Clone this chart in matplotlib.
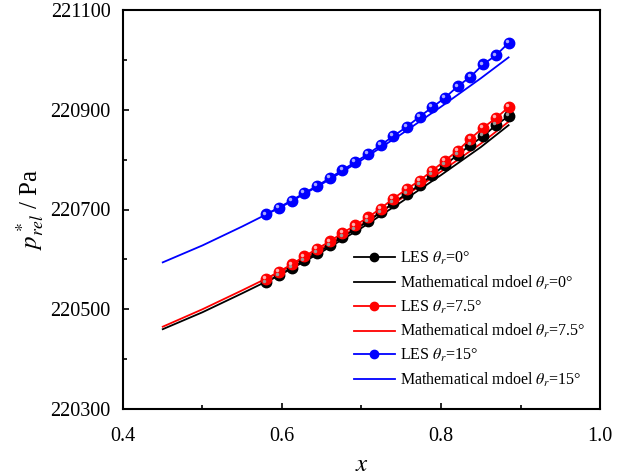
import numpy as np
import matplotlib
matplotlib.use("Agg")
import matplotlib.pyplot as plt
import matplotlib.transforms as mtransforms

plt.rcParams['font.family'] = ['Liberation Serif', 'DejaVu Serif']
plt.rcParams['mathtext.fontset'] = 'stix'

# LES sample positions
x_les = [0.580, 0.596, 0.612, 0.628, 0.644, 0.660, 0.676, 0.692, 0.708, 0.724,
         0.740, 0.757, 0.773, 0.789, 0.805, 0.821, 0.837, 0.853, 0.869, 0.885]
les_0 = [220554, 220568, 220583, 220598, 220613, 220628, 220645, 220660, 220676, 220694,
         220713, 220732, 220749, 220769, 220789, 220810, 220829, 220847, 220869, 220887]
les_75 = [220561, 220575, 220590, 220606, 220621, 220636, 220653, 220668, 220684, 220702,
          220722, 220741, 220758, 220778, 220798, 220818, 220842, 220864, 220883, 220905]
les_15 = [220690, 220704, 220718, 220733, 220747, 220763, 220779, 220795, 220811, 220829,
          220847, 220866, 220886, 220905, 220924, 220947, 220966, 220991, 221009, 221034]

# mathematical model
x_mod = [0.45, 0.50, 0.55, 0.60, 0.65, 0.70, 0.75, 0.80, 0.85, 0.885]
mod_0 = [220460, 220494, 220532, 220571, 220615, 220663, 220715, 220769, 220825, 220869]
mod_75 = [220465, 220500, 220538, 220577, 220622, 220670, 220722, 220776, 220832, 220876]
mod_15 = [220594, 220628, 220666, 220706, 220751, 220799, 220851, 220906, 220963, 221005]

yticks = [220300, 220500, 220700, 220900, 221100]
xticks = [0.4, 0.6, 0.8, 1.0]

fig = plt.figure(figsize=(6.3, 4.76), dpi=100)
ax = fig.add_axes([123/630, 1-409/476, 477/630, 399/476])

highlight = mtransforms.offset_copy(ax.transData, fig=fig, x=-1.3, y=1.3, units='points')

series = [
    (les_0, mod_0, 'black', '#9a9a9a', r'$\theta_r$=0°'),
    (les_75, mod_75, 'red', '#ffb0b0', r'$\theta_r$=7.5°'),
    (les_15, mod_15, 'blue', '#a8a8ff', r'$\theta_r$=15°'),
]
for les, mod, col, light, lab in series:
    ax.plot(x_les, les, '-o', color=col, lw=1.3, ms=7.5, mfc=col, mec=col,
            label='LES ' + lab, zorder=3)
    ax.plot(x_les, les, 'o', ms=2.5, color=light, mec='none', transform=highlight, zorder=4)
    ax.plot(x_mod, mod, '-', color=col, lw=1.3, label='Mathematical mdoel ' + lab, zorder=2)

ax.set_xlim(0.4, 1.0)
ax.set_ylim(220300, 221100)
ax.set_xticks(xticks)
ax.set_xticks([0.5, 0.7, 0.9], minor=True)
ax.set_xticklabels([f'{v:.1f}' for v in xticks])
ax.set_yticks(yticks)
ax.set_yticks([220400, 220600, 220800, 221000], minor=True)
ax.set_yticklabels([str(v) for v in yticks])
ax.tick_params(which='both', direction='in', labelsize=14.5, top=False, right=False, width=1.2)
ax.tick_params(which='major', length=4)
ax.tick_params(which='minor', length=3)
ax.tick_params(axis='y', which='major', pad=9)
ax.tick_params(axis='x', which='major', pad=13)
for s in ax.spines.values():
    s.set_linewidth(1.5)

ax.set_xlabel(r'$x$', fontsize=18, labelpad=6)
ax.set_ylabel(r'$p^*_{rel}$ / Pa', fontsize=18, labelpad=3)

ax.legend(loc='upper left', bbox_to_anchor=(0.47, 0.415), frameon=False, fontsize=11.5,
          handlelength=2.6, handletextpad=0.3, labelspacing=0.42, borderaxespad=0,
          markerscale=0.8)

fig.savefig('out.png', dpi=100)
